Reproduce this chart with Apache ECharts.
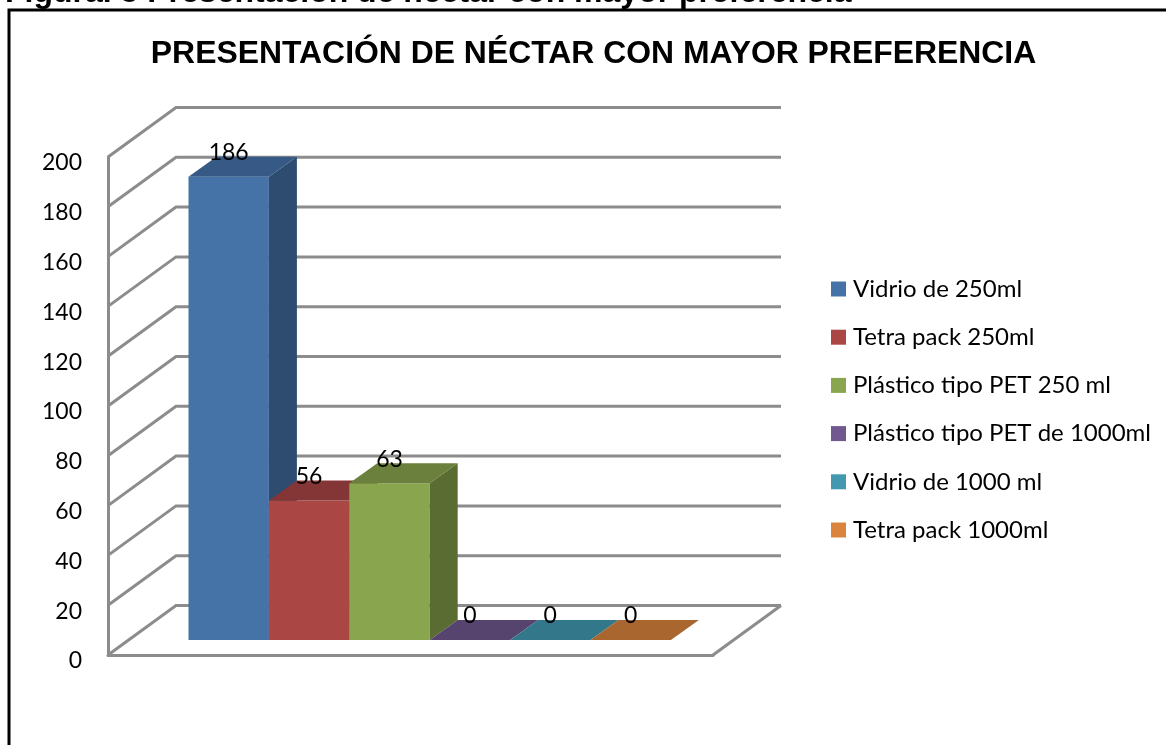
<!DOCTYPE html>
<html>
<head>
<meta charset="utf-8">
<style>
html, body { margin: 0; padding: 0; background: #fff; }
#main { width: 1166px; height: 745px; }
</style>
<script src="https://cdn.jsdelivr.net/npm/echarts@6/dist/echarts.min.js"></script>
</head>
<body>
<div id="main"></div>
<script>
const caption = 'Figura. 5 Presentación de néctar con mayor preferencia';
const chartTitle = 'PRESENTACIÓN DE NÉCTAR CON MAYOR PREFERENCIA';
const seriesNames = ['Vidrio de 250ml', 'Tetra pack 250ml', 'Plástico tipo PET 250 ml', 'Plástico tipo PET de 1000ml', 'Vidrio de 1000 ml', 'Tetra pack 1000ml'];
const seriesValues = [186, 56, 63, 0, 0, 0];
const yTicks = [0, 20, 40, 60, 80, 100, 120, 140, 160, 180, 200];
const legendColors = ['#4572a7', '#aa4643', '#89a54e', '#71588f', '#4198af', '#db843d'];
const frontColors = ['#4572a7', '#aa4643', '#89a54e', '#71588f', '#4198af', '#db843d'];
const topColors = ['#365a85', '#833635', '#6a803c', '#57446e', '#32778a', '#a9662f'];
const sideColors = ['#2e4b70', '#702d2c', '#5a6c32', '#4a3a5e', '#2a6575', '#8f5728'];

const gridLine = '#8c8c8c';
const textFont = 'Lato, "Noto Sans", sans-serif';
// x axis runs in bar widths, so each bar sits on its index
const xMin = -0.74, xMax = 6.785;
const wallDx = 68, wallDy = -49.5;   // depth of the whole box
const barDx = 21, barDy = -15;       // front of the bars, from the front of the floor
const depthDx = 28, depthDy = -20;   // depth of one bar

function renderWall(params, api) {
	const v = api.value(1);
	const p = api.coord([xMin, v]);
	const right = api.coord([xMax, v]);
	const style = {stroke: gridLine, lineWidth: 3, fill: null};
	const children = [{
		type: 'polyline',
		shape: {points: [p, [p[0] + wallDx, p[1] + wallDy], [right[0] + wallDx, right[1] + wallDy]]},
		style: style
	}];
	if (v === 0) {
		children.push({
			type: 'line',
			shape: {x1: right[0], y1: right[1], x2: right[0] + wallDx, y2: right[1] + wallDy},
			style: style
		});
	}
	return {type: 'group', children: children};
}

function renderBar(params, api) {
	const i = params.seriesIndex - 1;
	const a = api.coord([api.value(0), 0]);
	const b = api.coord([api.value(0) + 1, api.value(1)]);
	const x0 = a[0] + barDx, x1 = b[0] + barDx;
	const y0 = a[1] + barDy, y1 = b[1] + barDy;
	const poly = (points, fill) => ({type: 'polygon', shape: {points: points}, style: {fill: fill}});
	return {
		type: 'group',
		children: [
			poly([[x0, y1], [x1, y1], [x1, y0], [x0, y0]], frontColors[i]),
			poly([[x1, y1], [x1 + depthDx, y1 + depthDy], [x1 + depthDx, y0 + depthDy], [x1, y0]], sideColors[i]),
			poly([[x0, y1], [x0 + depthDx, y1 + depthDy], [x1 + depthDx, y1 + depthDy], [x1, y1]], topColors[i]),
			{
				type: 'text',
				z2: 10,
				style: {
					text: String(api.value(1)),
					x: (x0 + x1) / 2,
					y: y1 - 24,
					align: 'center',
					verticalAlign: 'middle',
					fill: '#000',
					font: '23px ' + textFont
				}
			}
		]
	};
}

const series = [{
	name: 'pared',
	type: 'custom',
	renderItem: renderWall,
	encode: {x: 0, y: 1},
	silent: true,
	data: yTicks.map(v => [xMin, v])
}];
seriesNames.forEach((name, i) => {
	series.push({
		name: name,
		type: 'custom',
		renderItem: renderBar,
		encode: {x: 0, y: 1},
		itemStyle: {color: legendColors[i]},
		data: [[i, seriesValues[i]]]
	});
});

const myChart = echarts.init(document.getElementById('main'));
myChart.setOption({
	animation: false,
	backgroundColor: '#fff',
	title: {
		text: chartTitle,
		left: 588.5,
		top: 33,
		textAlign: 'center',
		textStyle: {fontFamily: '"Liberation Sans", Arial, sans-serif', fontWeight: 'bold', fontSize: 31.9, color: '#000'}
	},
	legend: {
		data: seriesNames,
		orient: 'vertical',
		left: 831,
		top: 277,
		padding: 0,
		itemWidth: 15,
		itemHeight: 15,
		itemGap: 24.2,
		icon: 'rect',
		selectedMode: false,
		textStyle: {fontFamily: textFont, fontSize: 24, color: '#000', lineHeight: 24, padding: [0, 0, 0, 2]}
	},
	grid: {left: 108, top: 157, width: 605, height: 498},
	xAxis: {
		type: 'value',
		min: xMin,
		max: xMax,
		axisLabel: {show: false},
		axisTick: {show: false},
		splitLine: {show: false},
		axisLine: {show: true, onZero: false, lineStyle: {color: gridLine, width: 3}}
	},
	yAxis: {
		type: 'value',
		min: 0,
		max: 200,
		interval: 20,
		axisLabel: {margin: 26, fontFamily: textFont, fontSize: 23, color: '#000', verticalAlign: 'top', lineHeight: 12},
		axisTick: {show: false},
		splitLine: {show: false},
		axisLine: {show: true, onZero: false, lineStyle: {color: gridLine, width: 3}}
	},
	graphic: [
		{
			type: 'text',
			left: 5,
			top: -23,
			style: {text: caption, fill: '#000', font: 'bold 32px "Liberation Sans", Arial, sans-serif'}
		},
		{
			type: 'polyline',
			shape: {points: [[9, 745], [9, 10], [1166, 10]]},
			style: {stroke: '#000', lineWidth: 3, fill: null}
		}
	],
	series: series
});
</script>
</body>
</html>
